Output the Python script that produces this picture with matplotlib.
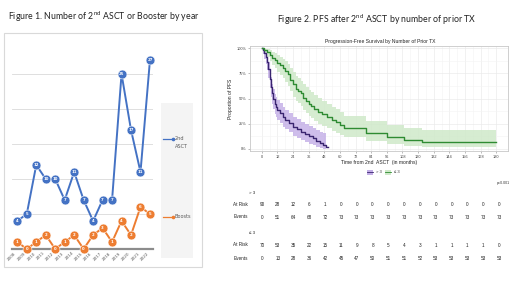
import matplotlib
matplotlib.use("Agg")
from matplotlib import pyplot as plt
from matplotlib.patches import Rectangle

# Figure 1 data
years = [str(y) for y in range(2008, 2023)]
asct = [4, 5, 12, 10, 10, 7, 11, 7, 4, 7, 7, 25, 17, 11, 27]
boosts = [1, 0, 1, 2, 0, 1, 2, 0, 2, 3, 1, 4, 2, 6, 5]

# Figure 2 data (Kaplan-Meier curves)
gt3_t = [0, 1, 2, 3, 4, 5, 6, 7, 8, 9, 10, 11, 12, 14, 16, 18, 21, 24, 27, 30, 33, 36, 39, 42, 45, 47, 49]
gt3_s = [1.0, 0.98, 0.95, 0.91, 0.86, 0.79, 0.70, 0.62, 0.55, 0.50, 0.45, 0.42, 0.39, 0.36, 0.32, 0.29,
         0.26, 0.22, 0.20, 0.17, 0.15, 0.13, 0.11, 0.08, 0.06, 0.04, 0.02]
gt3_lo = [1.0, 0.95, 0.90, 0.85, 0.79, 0.71, 0.61, 0.52, 0.45, 0.40, 0.35, 0.32, 0.29, 0.26, 0.22, 0.20,
          0.17, 0.13, 0.11, 0.09, 0.07, 0.05, 0.04, 0.02, 0.01, 0.0, 0.0]
gt3_hi = [1.0, 1.0, 0.99, 0.97, 0.93, 0.87, 0.79, 0.72, 0.65, 0.60, 0.55, 0.52, 0.49, 0.46, 0.42, 0.39,
          0.36, 0.32, 0.30, 0.27, 0.25, 0.23, 0.21, 0.19, 0.17, 0.16, 0.15]
gt3_end = 51

le3_t = [0, 2, 4, 6, 8, 10, 12, 14, 16, 18, 20, 22, 24, 26, 28, 30, 32, 34, 36, 38, 40, 43, 46, 50, 54,
         57, 60, 63, 80, 96, 109, 123]
le3_s = [1.0, 0.98, 0.96, 0.93, 0.90, 0.88, 0.85, 0.83, 0.80, 0.77, 0.74, 0.69, 0.64, 0.60, 0.58, 0.55,
         0.51, 0.48, 0.45, 0.43, 0.40, 0.37, 0.35, 0.32, 0.29, 0.27, 0.24, 0.21, 0.16, 0.12, 0.09, 0.065]
le3_lo = [1.0, 0.95, 0.92, 0.88, 0.84, 0.81, 0.77, 0.74, 0.71, 0.67, 0.63, 0.58, 0.52, 0.48, 0.46, 0.43,
          0.39, 0.36, 0.33, 0.31, 0.28, 0.25, 0.23, 0.21, 0.18, 0.16, 0.14, 0.12, 0.08, 0.05, 0.03, 0.02]
le3_hi = [1.0, 1.0, 1.0, 0.99, 0.97, 0.96, 0.94, 0.92, 0.90, 0.88, 0.85, 0.81, 0.77, 0.73, 0.71, 0.68,
          0.65, 0.62, 0.59, 0.57, 0.54, 0.51, 0.48, 0.45, 0.42, 0.40, 0.37, 0.33, 0.28, 0.24, 0.21, 0.19]
le3_end = 180

risk_times = list(range(0, 181, 12))
gt3_risk = [90, 28, 12, 6, 1, 0, 0, 0, 0, 0, 0, 0, 0, 0, 0, 0]
gt3_events = [0, 51, 64, 68, 72, 73, 73, 73, 73, 73, 73, 73, 73, 73, 73, 73]
le3_risk = [70, 53, 35, 22, 15, 11, 9, 8, 5, 4, 3, 1, 1, 1, 1, 0]
le3_events = [0, 13, 28, 36, 42, 45, 47, 50, 51, 51, 52, 53, 53, 53, 53, 53]

W, H = 520, 292
fig = plt.figure(figsize=(W / 100, H / 100), dpi=100)
fig.patch.set_facecolor('white')


def px_axes(x0, y0, x1, y1):
    return fig.add_axes([x0 / W, 1 - y1 / H, (x1 - x0) / W, (y1 - y0) / H])


def ft(x, y, s, **kw):
    fig.text(x / W, 1 - y / H, s, **kw)


BLUE = '#4472c4'
ORANGE = '#ed7d31'
title_font = ['Lato', 'DejaVu Sans']

# ---------------- Figure 1 ----------------
ft(8, 17, 'Figure 1. Number of 2$^{\\mathregular{nd}}$ ASCT or Booster by year', fontsize=6.3,
   family=title_font, va='center', ha='left', color='#222222')

fig.patches.append(Rectangle((4 / W, 1 - 267 / H), 198 / W, 234 / H, transform=fig.transFigure,
                             facecolor='white', edgecolor='#d9d9d9', lw=0.8, zorder=-2))
fig.patches.append(Rectangle((161 / W, 1 - 258 / H), 32 / W, 155 / H, transform=fig.transFigure,
                             facecolor='#f4f4f4', edgecolor='none', zorder=-1))

ax1 = px_axes(12, 46, 153, 249)
ax1.set_facecolor('none')
x = list(range(len(years)))
ax1.plot(x, asct, color=BLUE, lw=1.4, marker='o', ms=6.4, mfc=BLUE, mec='white', mew=0.4, clip_on=False, zorder=3)
ax1.plot(x, boosts, color=ORANGE, lw=1.4, marker='o', ms=6.4, mfc=ORANGE, mec='white', mew=0.4, clip_on=False, zorder=3)
for xi, v in zip(x, asct):
    ax1.text(xi, v, str(v), color='white', fontsize=2.8, ha='center', va='center', fontweight='bold', zorder=4)
for xi, v in zip(x, boosts):
    ax1.text(xi, v, str(v), color='white', fontsize=2.8, ha='center', va='center', fontweight='bold', zorder=4)
ax1.set_xlim(-0.56, 14.32)
ax1.set_ylim(0, 29)
ax1.set_yticks([5, 10, 15, 20, 25])
ax1.grid(axis='y', color='#d9d9d9', lw=0.6)
ax1.set_axisbelow(True)
for s in ['top', 'right', 'left']:
    ax1.spines[s].set_visible(False)
ax1.spines['bottom'].set_color('#8c8c8c')
ax1.spines['bottom'].set_linewidth(1.6)
ax1.tick_params(axis='y', length=0, labelleft=False)
ax1.set_xticks(x)
ax1.set_xticklabels(years, rotation=45, ha='right', va='top', fontsize=3, color='#595959')
ax1.tick_params(axis='x', length=0, pad=1.5)

# legend
fig.add_artist(plt.Line2D([163 / W, 173 / W], [1 - 139 / H] * 2, color=BLUE, lw=0.9,
                          marker='o', ms=1.6, markevery=[1], transform=fig.transFigure))
fig.add_artist(plt.Line2D([163 / W, 173 / W], [1 - 217 / H] * 2, color=ORANGE, lw=0.9,
                          marker='o', ms=1.6, markevery=[1], transform=fig.transFigure))
ft(174.5, 139, '2nd', fontsize=3.6, color='#595959', va='center', ha='left')
ft(174.5, 146.5, 'ASCT', fontsize=3.6, color='#595959', va='center', ha='left')
ft(174.5, 217, 'Boosts', fontsize=3.6, color='#595959', va='center', ha='left')

# ---------------- Figure 2 ----------------
ft(277, 20, 'Figure 2. PFS after 2$^{\\mathregular{nd}}$ ASCT by number of prior TX', fontsize=6.3,
   family=title_font, va='center', ha='left', color='#222222')
km_font = ['Liberation Sans', 'DejaVu Sans']
ft(380, 41, 'Progression-Free Survival by Number of Prior TX', fontsize=3.6, family=km_font,
   ha='center', va='center', color='#222222')

ax2 = px_axes(250, 46, 508, 151)
PURPLE = '#3a2570'
GREEN = '#2e8b32'
ax2.fill_between(gt3_t, gt3_lo, gt3_hi, step='post', color='#c2ade6', alpha=0.8, lw=0)
ax2.fill_between(le3_t + [le3_end], le3_lo + [le3_lo[-1]], le3_hi + [le3_hi[-1]], step='post',
                 color='#cfe9c9', alpha=0.85, lw=0)
ax2.step(gt3_t + [gt3_end], gt3_s + [gt3_s[-1]], where='post', color=PURPLE, lw=1.0)
ax2.step(le3_t + [le3_end], le3_s + [le3_s[-1]], where='post', color=GREEN, lw=1.0)
ax2.set_xlim(-9, 189)
ax2.set_ylim(-0.025, 1.025)
ax2.set_xticks(risk_times)
ax2.set_xticks(range(6, 181, 12), minor=True)
ax2.set_yticks([0, 0.25, 0.5, 0.75, 1.0])
ax2.set_yticks([0.125, 0.375, 0.625, 0.875], minor=True)
ax2.set_yticklabels(['0%', '25%', '50%', '75%', '100%'])
ax2.grid(which='major', color='#ebebeb', lw=0.5)
ax2.grid(which='minor', color='#f4f4f4', lw=0.4)
ax2.set_axisbelow(True)
for s in ax2.spines.values():
    s.set_color('#c8c8c8')
    s.set_linewidth(0.6)
ax2.tick_params(which='both', length=1.2, width=0.4, color='#888888', labelsize=2.8,
                labelcolor='#444444', pad=1.5)
ax2.tick_params(which='minor', length=0)
for lab in ax2.get_xticklabels() + ax2.get_yticklabels():
    lab.set_family(km_font)
ax2.set_xlabel('Time from 2nd  ASCT  (in months)', fontsize=3.6, family=km_font, labelpad=1, color='#222222')
ax2.set_ylabel('Proportion of PFS', fontsize=3.6, family=km_font, labelpad=2, color='#222222')

# legend of Figure 2
fig.patches.append(Rectangle((367 / W, 1 - 174.5 / H), 6 / W, 4.5 / H, transform=fig.transFigure,
                             facecolor='#c2ade6', edgecolor='none'))
fig.add_artist(plt.Line2D([367 / W, 373 / W], [1 - 172 / H] * 2, color=PURPLE, lw=0.6, transform=fig.transFigure))
ft(376, 172, '> 3', fontsize=3, family=km_font, va='center', ha='left', color='#333333')
fig.patches.append(Rectangle((385 / W, 1 - 174.5 / H), 6 / W, 4.5 / H, transform=fig.transFigure,
                             facecolor='#cfe9c9', edgecolor='none'))
fig.add_artist(plt.Line2D([385 / W, 391 / W], [1 - 172 / H] * 2, color=GREEN, lw=0.6, transform=fig.transFigure))
ft(394, 172, '\u2264 3', fontsize=3, family=km_font, va='center', ha='left', color='#333333')
ft(510, 183, 'p<0.001', fontsize=2.6, family=km_font, va='center', ha='right', color='#333333')

# risk table
ax3 = px_axes(250, 185, 508, 265)
ax3.set_xlim(-9.1, 186.8)
ax3.set_ylim(265, 185)
ax3.axis('off')
rows = [(204, gt3_risk), (217, gt3_events), (245, le3_risk), (258, le3_events)]
for yy, vals in rows:
    for t, v in zip(risk_times, vals):
        ax3.text(t, yy, str(v), fontsize=3.3, family=km_font, ha='center', va='center', color='#222222')
ft(252, 193, '> 3', fontsize=3.2, family=km_font, ha='center', va='center', color='#222222')
ft(252, 233, '\u2264 3', fontsize=3.2, family=km_font, ha='center', va='center', color='#222222')
for yy, lab in [(204, 'At Risk'), (217, 'Events'), (245, 'At Risk'), (258, 'Events')]:
    ft(248, yy, lab, fontsize=3.3, family=km_font, ha='right', va='center', color='#222222')

fig.savefig('out.png', dpi=100, facecolor='white')
